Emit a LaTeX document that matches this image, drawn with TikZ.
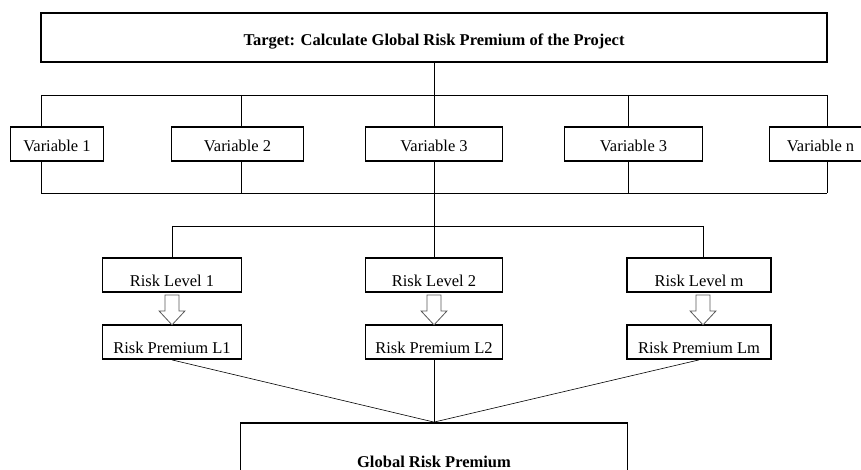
\documentclass[tikz,border=0pt]{standalone}
\usepackage{fontspec}
\setmainfont{Liberation Serif}
\usetikzlibrary{positioning,calc}

\begin{document}
\begin{tikzpicture}[x=1pt,y=-1pt,on grid,
    box/.style={draw,line width=1.8pt,inner sep=0pt,font=\fontsize{16.5}{20}\selectfont},
    varbox/.style={box,minimum width=#1,text height=24.5pt,text depth=9.5pt},
    riskbox/.style={box,minimum width=#1,text height=28.5pt,text depth=5.5pt},
    conn/.style={line width=0.8pt},
    spoke/.style={line width=0.6pt},
    hollow/.style={draw=black!65,line width=0.8pt,fill=white,line join=miter}]
			\useasboundingbox (0,0) rectangle (861,470);
			\clip (0,0) rectangle (861,470);
			\node[box,minimum width=786pt,text height=32.5pt,text depth=16.5pt,
			  font=\fontsize{16.5}{20}\selectfont\bfseries] (target) at (434,37.5)
			  {Target: Calculate Global Risk Premium of the Project};
			\node[varbox=137pt] (var3) [below=106.5pt of target] {Variable 3};
			\node[varbox=132pt] (var2) [left=196.5pt of var3] {Variable 2};
			\node[varbox=93pt] (var1) [left=180.5pt of var2] {Variable 1};
			\node[varbox=138pt] (var4) [right=199.5pt of var3] {Variable 3};
			\node[varbox=102pt] (varn) [right=187pt of var4] {Variable n};
			\node[riskbox=137pt] (lev2) [below=131pt of var3] {Risk Level 2};
			\node[riskbox=139pt] (lev1) [left=262pt of lev2] {Risk Level 1};
			\node[riskbox=144pt] (levm) [right=265pt of lev2] {Risk Level m};
			\node[riskbox=139pt] (prem1) [below=67pt of lev1] {Risk Premium L1};
			\node[riskbox=137pt] (prem2) [below=67pt of lev2] {Risk Premium L2};
			\node[riskbox=144pt] (premm) [below=67pt of levm] {Risk Premium Lm};
			\node[box,minimum width=387pt,text height=44.5pt,text depth=35.5pt,
			  font=\fontsize{16.5}{20}\selectfont\bfseries] (global) [below=121pt of prem2]
			  {Global Risk Premium};
			% bus lines
			\foreach \i/\x in {1/41,2/241,3/434,4/628,5/827}
			  {\coordinate (up\i) at (\x,95); \coordinate (low\i) at (\x,193.5);}
			\coordinate (rb1) at (172,226);
			\coordinate (rb2) at (434,226);
			\coordinate (rb3) at (703,226);
			\draw[conn] (target.south) -- (up3) (up1) -- (up5) (low1) -- (low5);
			\foreach \i/\v in {1/var1,2/var2,3/var3,4/var4,5/varn}
			  \draw[conn] (up\i) -- (up\i |- \v.north) (up\i |- \v.south) -- (low\i);
			\draw[conn] (low3) -- (rb2) (rb1) -- (rb3);
			\foreach \i/\l in {1/lev1,2/lev2,3/levm}
			  \draw[conn] (rb\i) -- (rb\i |- \l.north);
			% hollow arrows
			\foreach \i/\l in {1/lev1,2/lev2,3/levm}
			  \draw[hollow] ($(rb\i |- \l.south)+(0,2)$) ++(-7,0) -- ++(0,16) -- ++(-6,0)
			    -- ++(13,14) -- ++(13,-14) -- ++(-6,0) -- ++(0,-16) -- cycle;
			\foreach \p in {prem1,prem2,premm}
			  \draw[spoke] (\p.south) -- (global.north);
		\end{tikzpicture}
\end{document}
